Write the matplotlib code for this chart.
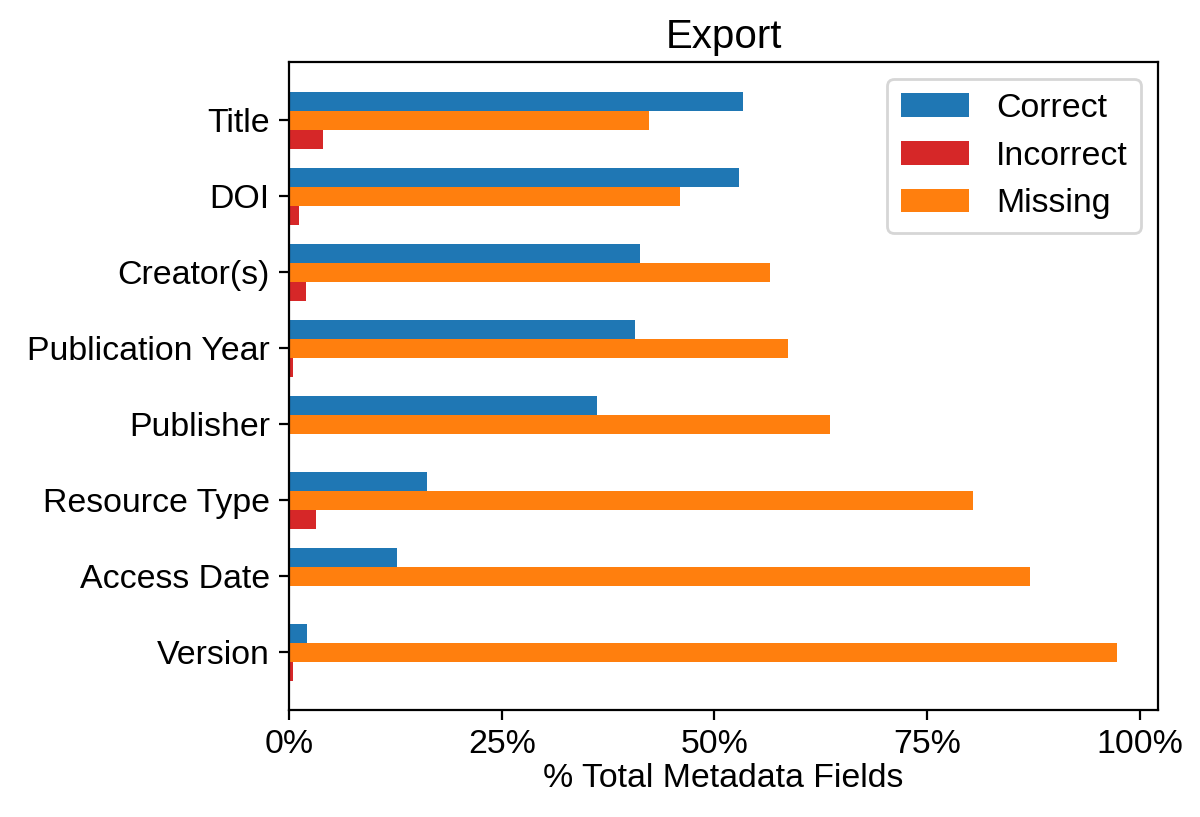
import matplotlib

matplotlib.use("Agg")
import matplotlib.pyplot as plt
import numpy as np
from matplotlib.ticker import PercentFormatter

plt.rcParams["font.family"] = ["Liberation Sans", "DejaVu Sans"]

fields = [
    "Title",
    "DOI",
    "Creator(s)",
    "Publication Year",
    "Publisher",
    "Resource Type",
    "Access Date",
    "Version",
]
correct = [53.4, 52.9, 41.2, 40.7, 36.2, 16.2, 12.7, 2.1]
incorrect = [4.0, 1.1, 2.0, 0.5, 0.0, 3.1, 0.0, 0.5]
missing = [42.3, 45.9, 56.5, 58.6, 63.6, 80.4, 87.1, 97.3]

fig = plt.figure(figsize=(6.0, 4.085), dpi=200)
ax = fig.add_axes([0.241, 0.131, 0.724, 0.793])

y = np.arange(len(fields))[::-1]
h = 0.25
ax.barh(y + h, correct, height=h, color="#1f77b4", label="Correct")
ax.barh(y - h, incorrect, height=h, color="#d62728", label="Incorrect")
ax.barh(y, missing, height=h, color="#ff7f0e", label="Missing")

ax.set_yticks(y)
ax.set_yticklabels(fields)
ax.set_xticks([0, 25, 50, 75, 100])
ax.xaxis.set_major_formatter(PercentFormatter(100, decimals=0))
ax.tick_params(labelsize=12.2)
ax.set_xlabel("% Total Metadata Fields", fontsize=12.2, labelpad=1)
ax.set_title("Export", fontsize=14.5, pad=5)
ax.legend(loc="upper right", fontsize=12.2)

fig.savefig("out.png", dpi=200)
